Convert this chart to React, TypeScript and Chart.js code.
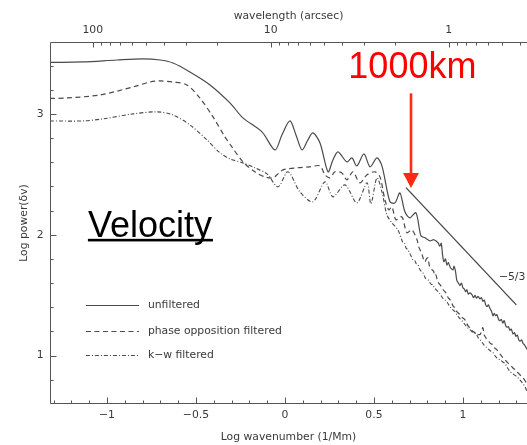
import { useEffect, useRef } from "react";
import { Chart, registerables } from "chart.js";

Chart.register(...registerables);

// Log wavenumber (1/Mm) and log velocity power for each spectrum
const unfilteredK = [-1.32, -1.135, -0.944, -0.798, -0.702, -0.629, -0.534, -0.421, -0.309, -0.236, -0.129, -0.056, -0.017, 0.028, 0.062, 0.096, 0.129, 0.157, 0.197, 0.242, 0.27, 0.298, 0.348, 0.376, 0.404, 0.444, 0.478, 0.517, 0.545, 0.59, 0.618, 0.646, 0.674, 0.702, 0.736, 0.764, 0.787, 0.815, 0.837,
  0.86, 0.87, 0.878, 0.886, 0.893, 0.902, 0.91, 0.918, 0.926, 0.934, 0.944, 0.95, 0.958, 0.966, 0.975, 0.983, 0.992, 1.0, 1.008, 1.015, 1.022, 1.03, 1.04, 1.051, 1.06, 1.068, 1.076, 1.085, 1.096, 1.104, 1.112, 1.12, 1.128, 1.135, 1.143, 1.152, 1.16, 1.169, 1.176, 1.184, 1.191, 1.2, 1.208, 1.216, 1.224, 1.232, 1.24, 1.248, 1.256, 1.264, 1.272, 1.281, 1.29, 1.298, 1.306, 1.314, 1.322, 1.33, 1.338, 1.346, 1.354, 1.36];
const unfilteredPower = [3.426, 3.43, 3.446, 3.455, 3.446, 3.421, 3.347, 3.24, 3.091, 2.967, 2.851, 2.702, 2.826, 2.942, 2.826, 2.702, 2.785, 2.843, 2.76, 2.521, 2.62, 2.686, 2.603, 2.636, 2.57, 2.669, 2.562, 2.636, 2.57, 2.273, 2.264, 2.347, 2.19, 2.14, 2.182, 1.992, 1.975, 1.95, 1.959,
  1.934, 1.905, 1.93, 1.83, 1.777, 1.8, 1.75, 1.77, 1.74, 1.72, 1.711, 1.74, 1.7, 1.62, 1.6, 1.58, 1.6, 1.562, 1.55, 1.53, 1.545, 1.51, 1.52, 1.504, 1.48, 1.5, 1.475, 1.49, 1.47, 1.48, 1.45, 1.46, 1.42, 1.405, 1.42, 1.39, 1.37, 1.33, 1.35, 1.33, 1.34, 1.3, 1.29, 1.3, 1.27, 1.29, 1.25, 1.235, 1.24, 1.21, 1.22, 1.18, 1.19, 1.16, 1.17, 1.13, 1.12, 1.13, 1.1, 1.09, 1.07, 1.05];

const phaseK = [-1.32, -1.225, -1.039, -0.854, -0.758, -0.702, -0.629, -0.551, -0.478, -0.404, -0.337, -0.298, -0.236, -0.169, -0.112, -0.067, -0.039, -0.011, 0.067, 0.14, 0.197, 0.225, 0.253, 0.281, 0.32, 0.348, 0.382, 0.421, 0.461, 0.506, 0.534, 0.562, 0.584, 0.601, 0.624, 0.657, 0.685, 0.713, 0.742,
  0.752, 0.764, 0.772, 0.78, 0.787, 0.795, 0.803, 0.812, 0.82, 0.826, 0.835, 0.842, 0.848, 0.857, 0.864, 0.871, 0.88, 0.889, 0.899, 0.908, 0.917, 0.927, 0.936, 0.945, 0.955, 0.963, 0.972, 0.983, 0.992, 1.001, 1.011, 1.02, 1.03, 1.039, 1.048, 1.057, 1.067, 1.076, 1.086, 1.096, 1.104, 1.112, 1.12, 1.128, 1.135, 1.145, 1.155, 1.169, 1.18, 1.19, 1.197, 1.21, 1.225, 1.24, 1.252, 1.264, 1.28, 1.292, 1.303, 1.318, 1.328, 1.337, 1.35, 1.36];
const phasePower = [3.128, 3.132, 3.157, 3.223, 3.264, 3.273, 3.264, 3.24, 3.132, 2.975, 2.81, 2.727, 2.603, 2.521, 2.479, 2.471, 2.504, 2.537, 2.554, 2.562, 2.57, 2.496, 2.471, 2.521, 2.512, 2.455, 2.521, 2.43, 2.496, 2.521, 2.479, 2.289, 2.207, 2.231, 2.124, 2.149, 2.017, 2.041, 1.959,
  1.9, 1.86, 1.83, 1.79, 1.777, 1.8, 1.81, 1.74, 1.72, 1.711, 1.7, 1.66, 1.669, 1.62, 1.6, 1.587, 1.57, 1.545, 1.529, 1.51, 1.48, 1.463, 1.44, 1.41, 1.397, 1.37, 1.355, 1.339, 1.32, 1.31, 1.298, 1.27, 1.245, 1.231, 1.21, 1.2, 1.19, 1.165, 1.175, 1.174, 1.2, 1.231, 1.17, 1.15, 1.132, 1.12, 1.1, 1.091, 1.06, 1.05, 1.033, 1.01, 0.983, 0.96, 0.94, 0.926, 0.9, 0.885, 0.868, 0.845, 0.83, 0.818, 0.79, 0.76];

const kwK = [-1.32, -1.135, -1.022, -0.854, -0.719, -0.629, -0.534, -0.438, -0.365, -0.309, -0.236, -0.169, -0.101, -0.039, 0.017, 0.084, 0.157, 0.225, 0.27, 0.337, 0.404, 0.461, 0.483, 0.517, 0.545, 0.573, 0.601, 0.635,
  0.663, 0.672, 0.68, 0.691, 0.7, 0.71, 0.719, 0.728, 0.738, 0.747, 0.756, 0.765, 0.775, 0.783, 0.79, 0.803, 0.812, 0.822, 0.831, 0.84, 0.85, 0.86, 0.871, 0.88, 0.89, 0.9, 0.91, 0.92, 0.93, 0.942, 0.955, 0.965, 0.975, 0.988, 1.0, 1.01, 1.02, 1.03, 1.039, 1.05, 1.06, 1.073, 1.085, 1.096, 1.108, 1.12, 1.135, 1.15, 1.169, 1.185, 1.197, 1.208, 1.222, 1.236, 1.25, 1.264, 1.28, 1.303, 1.32, 1.337, 1.35, 1.36];
const kwPower = [2.942, 2.942, 2.959, 3.0, 3.017, 2.992, 2.909, 2.785, 2.678, 2.628, 2.595, 2.554, 2.504, 2.397, 2.521, 2.355, 2.273, 2.438, 2.314, 2.413, 2.264, 2.43, 2.256, 2.471, 2.355, 2.165, 2.099, 2.041,
  1.934, 1.93, 1.89, 1.876, 1.85, 1.82, 1.793, 1.79, 1.76, 1.752, 1.72, 1.7, 1.686, 1.66, 1.64, 1.628, 1.61, 1.59, 1.587, 1.56, 1.545, 1.53, 1.512, 1.49, 1.47, 1.46, 1.446, 1.42, 1.4, 1.38, 1.364, 1.34, 1.32, 1.3, 1.281, 1.26, 1.24, 1.225, 1.215, 1.2, 1.19, 1.182, 1.15, 1.132, 1.11, 1.085, 1.066, 1.045, 1.025, 0.99, 0.975, 0.967, 0.95, 0.934, 0.9, 0.868, 0.85, 0.826, 0.8, 0.769, 0.74, 0.702];

// Reference power-law segment
const slopeK = [0.68, 1.3];
const slopePower = [2.39, 1.42];
const slopeLabel = "\u22125/3";

const seriesLabels = ["unfiltered", "phase opposition filtered", "k\u2212w filtered"];

// Axis ticks
const xTickValues = [-1, -0.5, 0, 0.5, 1];
const yTickValues = [1, 2, 3];
const wavelengthMajor = [100, 10, 1];
const wavelengthMinor = [90, 80, 70, 60, 50, 40, 30, 20, 9, 8, 7, 6, 5, 4, 3, 2, 0.9, 0.8, 0.7, 0.6, 0.5, 0.4];
// log k (1/Mm) = WAVE_OFFSET - log10(wavelength in arcsec)
const WAVE_OFFSET = 0.92;

const X_MIN = -1.32;
const X_MAX = 1.36;
const Y_MIN = 0.6;
const Y_MAX = 3.595;

const AXIS_FONT = { family: "'DejaVu Sans', sans-serif", size: 10.8 };
const TEXT_COLOR = "#3a3a3a";
const LINE_COLOR = "#4a4a4a";
const DASH = [5, 3.5];
const DASH_DOT = [4, 2, 1, 2];

const toPoints = (ks: number[], ps: number[]) => ks.map((k, i) => ({ x: k, y: ps[i] }));

const frameTicks = {
  id: "frameTicks",
  afterDatasetsDraw(chart: any) {
    const { ctx, chartArea: a, scales } = chart;
    const x = scales.x;
    const y = scales.y;
    ctx.save();
    ctx.strokeStyle = "#555";
    ctx.lineWidth = 1;
    const L = Math.round(a.left) + 0.5;
    const T = Math.round(a.top) + 0.5;
    const B = Math.round(a.bottom) - 0.5;
    ctx.beginPath();
    ctx.moveTo(a.right, T);
    ctx.lineTo(L, T);
    ctx.lineTo(L, B);
    ctx.lineTo(a.right, B);
    ctx.stroke();

    ctx.beginPath();
    // bottom axis: majors every 0.5, minors every 0.1
    for (let i = -13; i <= 13; i++) {
      const px = Math.round(x.getPixelForValue(i / 10)) + 0.5;
      const len = i % 5 === 0 ? 6 : 3;
      ctx.moveTo(px, B);
      ctx.lineTo(px, B - len);
    }
    // left axis: majors at integers, minors every 0.2
    for (let i = 4; i <= 17; i++) {
      const v = i / 5;
      const py = Math.round(y.getPixelForValue(v)) + 0.5;
      const len = i % 5 === 0 ? 6 : 3;
      ctx.moveTo(L, py);
      ctx.lineTo(L + len, py);
    }
    // top axis: wavelength in arcsec, logarithmic
    const drawTop = (lam: number, len: number) => {
      const v = WAVE_OFFSET - Math.log10(lam);
      if (v < X_MIN || v > X_MAX) return;
      const px = Math.round(x.getPixelForValue(v)) + 0.5;
      ctx.moveTo(px, T);
      ctx.lineTo(px, T + len);
    };
    wavelengthMajor.forEach((l) => drawTop(l, 5));
    wavelengthMinor.forEach((l) => drawTop(l, 3));
    ctx.stroke();
    ctx.restore();
  },
};

const legendBox = {
  id: "legendBox",
  afterDatasetsDraw(chart: any) {
    const { ctx, scales } = chart;
    const x = scales.x;
    const y = scales.y;
    const rows = [1.416, 1.201, 1.002];
    const x0 = x.getPixelForValue(-1.118);
    const x1 = x.getPixelForValue(-0.82);
    const xt = x.getPixelForValue(-0.77);
    ctx.save();
    ctx.font = `${AXIS_FONT.size}px ${AXIS_FONT.family}`;
    ctx.textBaseline = "middle";
    ctx.textAlign = "left";
    for (let i = 0; i < 3; i++) {
      const ds = chart.data.datasets[i];
      const py = Math.round(y.getPixelForValue(rows[i])) + 0.5;
      ctx.strokeStyle = ds.borderColor;
      ctx.lineWidth = ds.borderWidth;
      ctx.setLineDash(ds.borderDash || []);
      ctx.beginPath();
      ctx.moveTo(x0, py);
      ctx.lineTo(x1, py);
      ctx.stroke();
      ctx.setLineDash([]);
      ctx.fillStyle = TEXT_COLOR;
      ctx.fillText(seriesLabels[i], xt, py);
    }
    ctx.restore();
  },
};

const notes = {
  id: "notes",
  afterDatasetsDraw(chart: any) {
    const { ctx, scales } = chart;
    const x = scales.x;
    const y = scales.y;
    ctx.save();

    // slope label
    ctx.font = `${AXIS_FONT.size}px ${AXIS_FONT.family}`;
    ctx.fillStyle = TEXT_COLOR;
    ctx.textAlign = "left";
    ctx.textBaseline = "middle";
    ctx.fillText(slopeLabel, x.getPixelForValue(1.202), y.getPixelForValue(1.645));

    // 1000 km marker
    ctx.font = "36px 'Liberation Sans', Arial, sans-serif";
    ctx.fillStyle = "#ff0000";
    ctx.textAlign = "center";
    ctx.textBaseline = "alphabetic";
    ctx.fillText("1000km", x.getPixelForValue(0.716), y.getPixelForValue(3.3));

    const ax = Math.round(x.getPixelForValue(0.708));
    const aTop = y.getPixelForValue(3.17);
    const aTip = y.getPixelForValue(2.388);
    ctx.strokeStyle = "#ff2a10";
    ctx.fillStyle = "#ff2a10";
    ctx.lineWidth = 2.6;
    ctx.beginPath();
    ctx.moveTo(ax, aTop);
    ctx.lineTo(ax, aTip - 12);
    ctx.stroke();
    ctx.beginPath();
    ctx.moveTo(ax - 8, aTip - 15);
    ctx.lineTo(ax + 8, aTip - 15);
    ctx.lineTo(ax, aTip);
    ctx.closePath();
    ctx.fill();

    // panel title
    ctx.font = "36px 'Liberation Sans', Arial, sans-serif";
    ctx.fillStyle = "#000";
    ctx.textAlign = "left";
    const vx = x.getPixelForValue(-1.107);
    const vy = y.getPixelForValue(1.983);
    ctx.fillText("Velocity", vx, vy);
    const w = ctx.measureText("Velocity").width;
    ctx.fillRect(vx, vy + 2, w + 1, 2.6);
    ctx.restore();
  },
};

export default function App() {
  const canvasRef = useRef<HTMLCanvasElement | null>(null);

  useEffect(() => {
    const canvas = canvasRef.current;
    if (!canvas) return;
    const chart = new Chart(canvas, {
      type: "line",
      data: {
        datasets: [
          {
            label: seriesLabels[0],
            data: toPoints(unfilteredK, unfilteredPower),
            borderColor: LINE_COLOR,
            borderWidth: 1.2,
            pointRadius: 0,
            tension: 0.3,
          },
          {
            label: seriesLabels[1],
            data: toPoints(phaseK, phasePower),
            borderColor: LINE_COLOR,
            borderWidth: 1.2,
            borderDash: DASH,
            pointRadius: 0,
            tension: 0.3,
          },
          {
            label: seriesLabels[2],
            data: toPoints(kwK, kwPower),
            borderColor: LINE_COLOR,
            borderWidth: 1.1,
            borderDash: DASH_DOT,
            pointRadius: 0,
            tension: 0.3,
          },
          {
            label: slopeLabel,
            data: toPoints(slopeK, slopePower),
            borderColor: "#444",
            borderWidth: 1.3,
            pointRadius: 0,
            tension: 0,
          },
        ],
      },
      options: {
        responsive: false,
        animation: false,
        devicePixelRatio: 1,
        layout: { padding: 0 },
        plugins: {
          legend: { display: false },
          tooltip: { enabled: false },
        },
        scales: {
          x: {
            type: "linear",
            position: "bottom",
            min: X_MIN,
            max: X_MAX,
            grid: { display: false, drawTicks: false },
            border: { display: false },
            afterBuildTicks: (s: any) => {
              s.ticks = xTickValues.map((v) => ({ value: v }));
            },
            afterFit: (s: any) => {
              s.height = 41;
            },
            ticks: {
              autoSkip: false,
              maxRotation: 0,
              padding: 4.5,
              color: TEXT_COLOR,
              font: AXIS_FONT,
              callback: (v: any) => (v < 0 ? "\u2212" + Math.abs(v) : String(v)),
            },
            title: {
              display: true,
              text: "Log wavenumber (1/Mm)",
              color: TEXT_COLOR,
              font: AXIS_FONT,
              padding: { top: 0, bottom: 1.5 },
            },
          },
          x2: {
            type: "linear",
            position: "top",
            min: X_MIN,
            max: X_MAX,
            grid: { display: false, drawTicks: false },
            border: { display: false },
            afterBuildTicks: (s: any) => {
              s.ticks = wavelengthMajor.map((l) => ({ value: WAVE_OFFSET - Math.log10(l) }));
            },
            afterFit: (s: any) => {
              s.height = 42;
            },
            ticks: {
              autoSkip: false,
              maxRotation: 0,
              padding: 5,
              color: TEXT_COLOR,
              font: AXIS_FONT,
              callback: (_v: any, i: number) => String(wavelengthMajor[i]),
            },
            title: {
              display: true,
              text: "wavelength (arcsec)",
              color: TEXT_COLOR,
              font: AXIS_FONT,
              padding: { top: 10, bottom: 0 },
            },
          },
          y: {
            type: "linear",
            position: "left",
            min: Y_MIN,
            max: Y_MAX,
            grid: { display: false, drawTicks: false },
            border: { display: false },
            afterBuildTicks: (s: any) => {
              s.ticks = yTickValues.map((v) => ({ value: v }));
            },
            afterFit: (s: any) => {
              s.width = 50;
            },
            ticks: {
              autoSkip: false,
              padding: 6.5,
              color: TEXT_COLOR,
              font: AXIS_FONT,
              callback: (v: any) => String(v),
            },
            title: {
              display: true,
              text: "Log power(\u03b4v)",
              color: TEXT_COLOR,
              font: AXIS_FONT,
              padding: { top: 17.5, bottom: 0 },
            },
          },
        },
      },
      plugins: [frameTicks, legendBox, notes],
    } as any);
    return () => chart.destroy();
  }, []);

  return (
    <div style={{ position: "fixed", left: 0, top: 0, width: 527, height: 445, background: "#fff", overflow: "hidden" }}>
      <canvas ref={canvasRef} width={527} height={445} style={{ display: "block" }} />
    </div>
  );
}
